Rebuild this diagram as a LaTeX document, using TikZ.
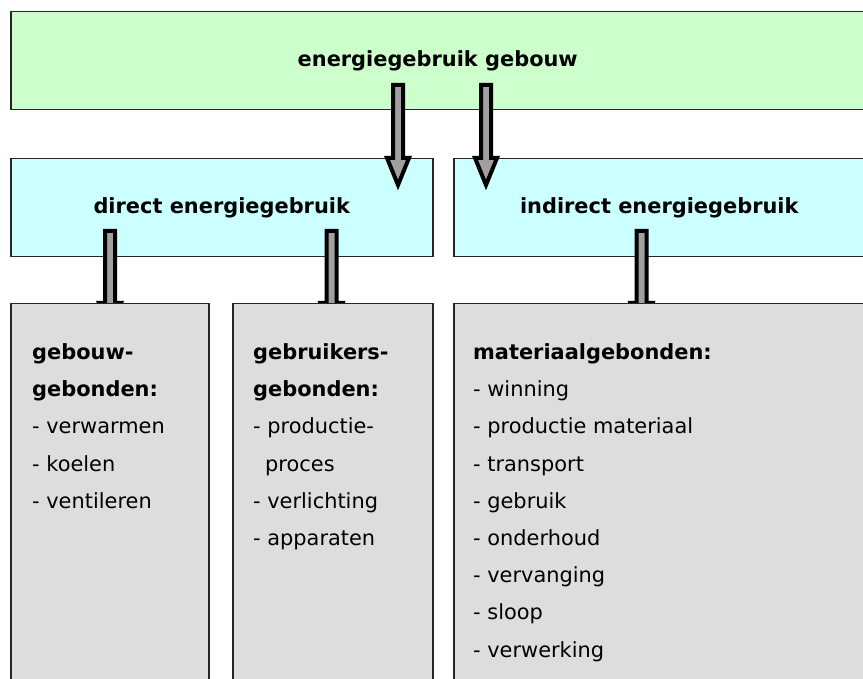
\documentclass[tikz,border=0pt]{standalone}
\usepackage{fontspec}
\setmainfont{DejaVu Sans}
\usetikzlibrary{calc}
\definecolor{topgreen}{HTML}{CCFFCC}
\definecolor{midcyan}{HTML}{CCFFFF}
\definecolor{boxgray}{HTML}{DDDDDD}
\definecolor{arrowgray}{HTML}{A0A0A0}
\tikzset{
  box/.style={draw=black!85, line width=1.5pt, anchor=north west, inner sep=0pt},
  topbox/.style={box, fill=topgreen, font=\fontsize{20.9}{24}\selectfont\bfseries},
  midbox/.style={box, fill=midcyan, font=\fontsize{20.9}{24}\selectfont\bfseries},
  lowbox/.style={box, fill=boxgray},
  listtext/.style={anchor=north west, inner sep=0pt, align=left, font=\fontsize{20.9}{37.2}\selectfont},
  blockarrow/.style={draw=black, fill=arrowgray, line width=4pt, line join=miter}
}
\newcommand{\blockarrow}[2]{%
  \filldraw[blockarrow] ($(#1)+(-5,0)$) -- ($(#2)+(-5,-27)$) -- ($(#2)+(-11,-27)$) -- (#2)
    -- ($(#2)+(11,-27)$) -- ($(#2)+(5,-27)$) -- ($(#1)+(5,0)$) -- cycle;}
\begin{document}
\begin{tikzpicture}[x=1pt, y=-1pt]
\clip (0,0) rectangle (863,679);
\fill[white] (0,0) rectangle (863,679);
\node[topbox, minimum width=854, minimum height=98] (gebouw) at (10,11) {energiegebruik gebouw};
\node[midbox, minimum width=422, minimum height=98] (direct) at (10,158) {direct energiegebruik};
\node[midbox, minimum width=411, minimum height=98] (indirect) at (453,158) {indirect energiegebruik};
\coordinate (s1) at (398,85);
\coordinate (t1) at (398,185);
\coordinate (s2) at (486,85);
\coordinate (t2) at (486,185);
\coordinate (s3) at (110,231);
\coordinate (t3) at (110,330);
\coordinate (s4) at (331.5,231);
\coordinate (t4) at (331.5,330);
\coordinate (s5) at (641.5,231);
\coordinate (t5) at (641.5,330);
\blockarrow{s1}{t1}
\blockarrow{s2}{t2}
\blockarrow{s3}{t3}
\blockarrow{s4}{t4}
\blockarrow{s5}{t5}
\node[lowbox, minimum width=198, minimum height=400] (gebouwgeb) at (10,303) {};
\node[lowbox, minimum width=200, minimum height=400] (gebruikersgeb) at (232,303) {};
\node[lowbox, minimum width=411, minimum height=400] (materiaalgeb) at (453,303) {};
\node[listtext] (lijst1) at (32,343.5) {\textbf{gebouw-}\\ \textbf{gebonden:}\\ - verwarmen\\ - koelen\\ - ventileren};
\node[listtext] (lijst2) at (253,343.5) {\textbf{gebruikers-}\\ \textbf{gebonden:}\\ - productie-\\ \hspace*{12pt}proces\\ - verlichting\\ - apparaten};
\node[listtext] (lijst3) at (473,343.5) {\textbf{materiaalgebonden:}\\ - winning\\ - productie materiaal\\ - transport\\ - gebruik\\ - onderhoud\\ - vervanging\\ - sloop\\ - verwerking};
\end{tikzpicture}
\end{document}
